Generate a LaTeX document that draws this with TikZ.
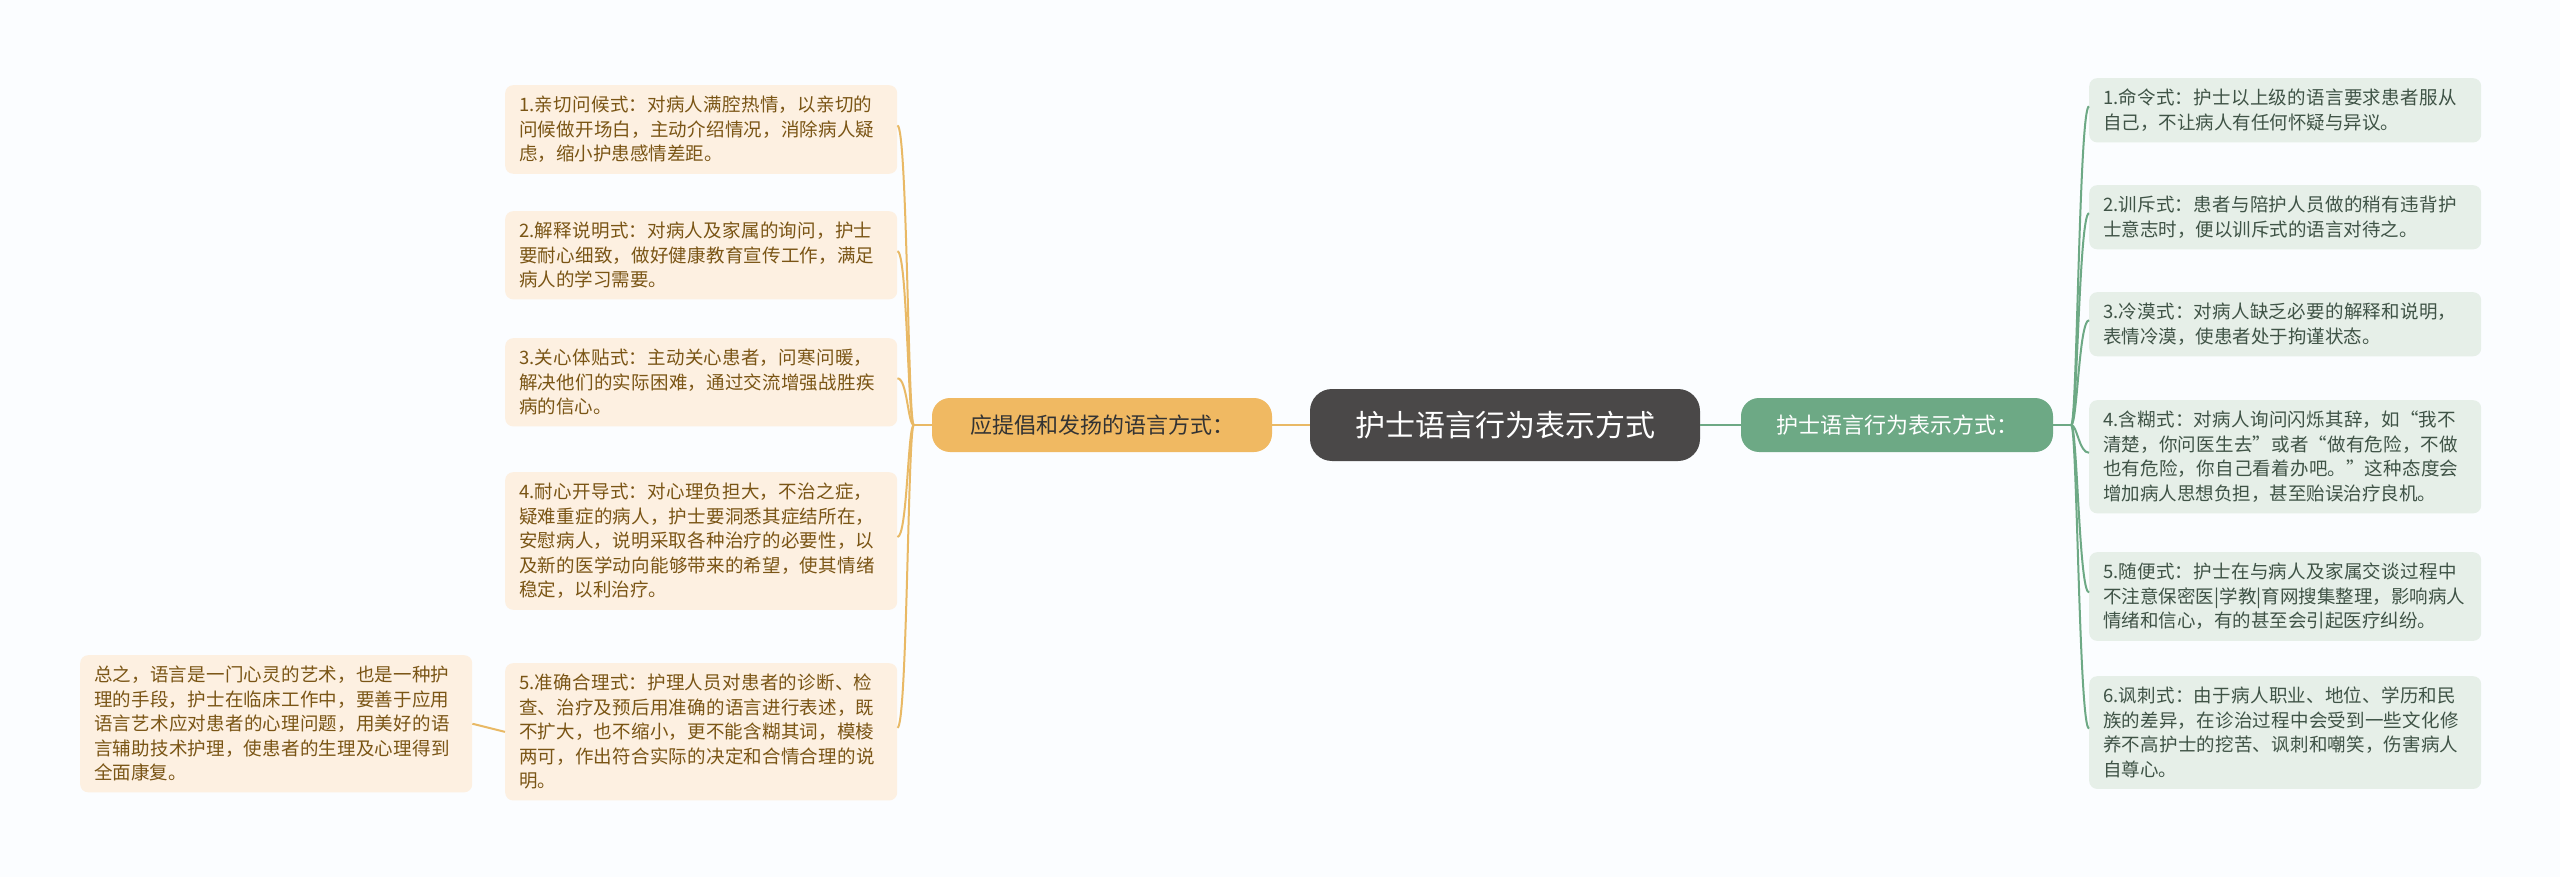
\documentclass[tikz,border=0pt]{standalone}
\usepackage{fontspec}
\setmainfont{Noto Sans CJK SC}
\XeTeXlinebreaklocale "zh"
\XeTeXlinebreakskip=0pt plus 1pt
\begin{document}
\begin{tikzpicture}[x=1pt,y=-1pt,
  leafO/.style={anchor=north west,fill=ofill,rounded corners=8pt,text=otext,text width=364pt,inner xsep=14pt,inner ysep=11pt,font=\fontsize{18.5}{24.5}\selectfont,align=left},
  leafG/.style={anchor=north west,fill=gfill,rounded corners=8pt,text=gtext,text width=364pt,inner xsep=14pt,inner ysep=11pt,font=\fontsize{18.5}{24.5}\selectfont,align=left},
  oline/.style={draw=oline,line width=2pt},
  gline/.style={draw=gline,line width=2pt}]
\definecolor{ofill}{HTML}{FDF0E1}
\definecolor{otext}{HTML}{7A5515}
\definecolor{gfill}{HTML}{E6EFE8}
\definecolor{gtext}{HTML}{3F5346}
\definecolor{oline}{HTML}{E9B965}
\definecolor{gline}{HTML}{6DA985}
\definecolor{cfill}{HTML}{4A4848}
\definecolor{mfill}{HTML}{F0B962}
\definecolor{bg}{HTML}{FBFDFF}
\fill[bg] (0,0) rectangle (2560,877);
\useasboundingbox (0,0) rectangle (2560,877);

\node[fill=cfill,rounded corners=22pt,text=white,minimum width=390pt,minimum height=72pt,font=\fontsize{30}{36}\selectfont] (c) at (1505,425) {护士语言行为表示方式};
\node[fill=mfill,rounded corners=18pt,text=black!80,minimum width=340pt,minimum height=54pt,font=\fontsize{22}{26}\selectfont] (L) at (1102,425) {应提倡和发扬的语言方式：};
\node[fill=gline,rounded corners=18pt,text=white,minimum width=312pt,minimum height=54pt,font=\fontsize{22}{26}\selectfont] (R) at (1897,425) {护士语言行为表示方式：};

\node[leafO] (l1) at (505,85) {1.亲切问候式：对病人满腔热情，以亲切的问候做开场白，主动介绍情况，消除病人疑虑，缩小护患感情差距。};
\node[leafO] (l2) at (505,211) {2.解释说明式：对病人及家属的询问，护士要耐心细致，做好健康教育宣传工作，满足病人的学习需要。};
\node[leafO] (l3) at (505,338) {3.关心体贴式：主动关心患者，问寒问暖，解决他们的实际困难，通过交流增强战胜疾病的信心。};
\node[leafO] (l4) at (505,472) {4.耐心开导式：对心理负担大，不治之症，疑难重症的病人，护士要洞悉其症结所在，安慰病人，说明采取各种治疗的必要性，以及新的医学动向能够带来的希望，使其情绪稳定，以利治疗。};
\node[leafO] (l5) at (505,663) {5.准确合理式：护理人员对患者的诊断、检查、治疗及预后用准确的语言进行表述，既不扩大，也不缩小，更不能含糊其词，模棱两可，作出符合实际的决定和合情合理的说明。};
\node[leafO] (s) at (80,655) {总之，语言是一门心灵的艺术，也是一种护理的手段，护士在临床工作中，要善于应用语言艺术应对患者的心理问题，用美好的语言辅助技术护理，使患者的生理及心理得到全面康复。};

\node[leafG] (r1) at (2089,78) {1.命令式：护士以上级的语言要求患者服从自己，不让病人有任何怀疑与异议。};
\node[leafG] (r2) at (2089,185) {2.训斥式：患者与陪护人员做的稍有违背护士意志时，便以训斥式的语言对待之。};
\node[leafG] (r3) at (2089,292) {3.冷漠式：对病人缺乏必要的解释和说明，表情冷漠，使患者处于拘谨状态。};
\node[leafG] (r4) at (2089,400) {4.含糊式：对病人询问闪烁其辞，如“我不清楚，你问医生去”或者“做有危险，不做也有危险，你自己看着办吧。”这种态度会增加病人思想负担，甚至贻误治疗良机。};
\node[leafG] (r5) at (2089,552) {5.随便式：护士在与病人及家属交谈过程中不注意保密医|学教|育网搜集整理，影响病人情绪和信心，有的甚至会引起医疗纠纷。};
\node[leafG] (r6) at (2089,676) {6.讽刺式：由于病人职业、地位、学历和民族的差异，在诊治过程中会受到一些文化修养不高护士的挖苦、讽刺和嘲笑，伤害病人自尊心。};

\draw[oline] (c.west) -- (L.east);
\draw[gline] (c.east) -- (R.west);
\coordinate (lj) at ([xshift=-18pt]L.west);
\coordinate (rj) at ([xshift=18pt]R.east);
\draw[oline] (L.west) -- (lj);
\draw[gline] (R.east) -- (rj);
\foreach \n in {l1,l2,l3,l4,l5}{
  \draw[oline] (lj) .. controls ([xshift=-6pt]lj) and ([xshift=10pt,yshift=4pt]\n.east) .. ([yshift=4pt]\n.east);
}
\foreach \n in {r1,r2,r3,r4,r5,r6}{
  \draw[gline] (rj) .. controls ([xshift=6pt]rj) and ([xshift=-10pt,yshift=4pt]\n.west) .. ([yshift=4pt]\n.west);
}
\draw[oline] (l5.west) -- (s.east);
\end{tikzpicture}
\end{document}
